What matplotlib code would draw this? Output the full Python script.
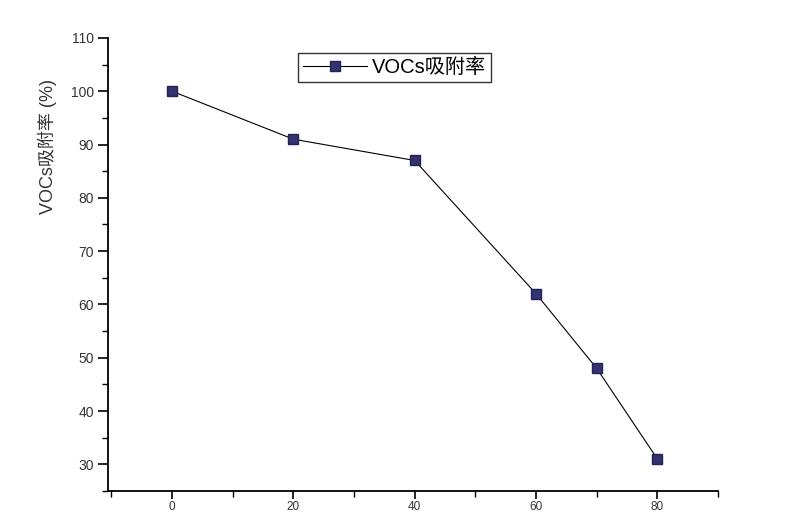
import matplotlib
matplotlib.use('Agg')
import matplotlib.pyplot as plt
from matplotlib.ticker import MultipleLocator

plt.rcParams['font.family'] = ['Liberation Sans', 'Noto Sans CJK SC']

# data
x_vals = [0, 20, 40, 60, 70, 80]
y_vals = [100, 91, 87, 62, 48, 31]
series_name = 'VOCs吸附率'
y_label = 'VOCs吸附率 (%)'

fig = plt.figure(figsize=(7.9, 5.12), dpi=100)
ax = fig.add_axes([0.137, 0.041, 0.772, 0.885])

ax.plot(x_vals, y_vals, color='black', linewidth=0.8, marker='s',
        markersize=7, markerfacecolor='#34336f', markeredgecolor='#222255',
        label=series_name)

ax.set_xlim(-10.5, 90)
ax.set_ylim(25, 110)
ax.xaxis.set_major_locator(MultipleLocator(20))
ax.xaxis.set_minor_locator(MultipleLocator(10))
ax.yaxis.set_major_locator(MultipleLocator(10))
ax.yaxis.set_minor_locator(MultipleLocator(5))

for s in ['top', 'right']:
    ax.spines[s].set_visible(False)
for s in ['left', 'bottom']:
    ax.spines[s].set_linewidth(1.3)

ax.tick_params(which='major', direction='out', length=7, width=1.2,
               labelsize=10, colors='black', labelcolor='#333333')
ax.tick_params(which='minor', direction='out', length=4, width=1.0)
# the bottom labels sit right at the image edge, keep them inside
ax.tick_params(axis='x', which='major', length=6, pad=1, labelsize=8.5)

ax.set_ylabel(y_label, fontsize=13, color='#333333')
ax.yaxis.set_label_coords(-0.084, 0.76)

leg = ax.legend(loc='upper center', bbox_to_anchor=(0.469, 0.966),
                fontsize=14.5, frameon=True, fancybox=False,
                handlelength=3.2, borderpad=0.25, handletextpad=0.2,
                borderaxespad=0)
leg.get_frame().set_edgecolor('black')
leg.get_frame().set_linewidth(1.0)

fig.savefig('out.png', dpi=100)
